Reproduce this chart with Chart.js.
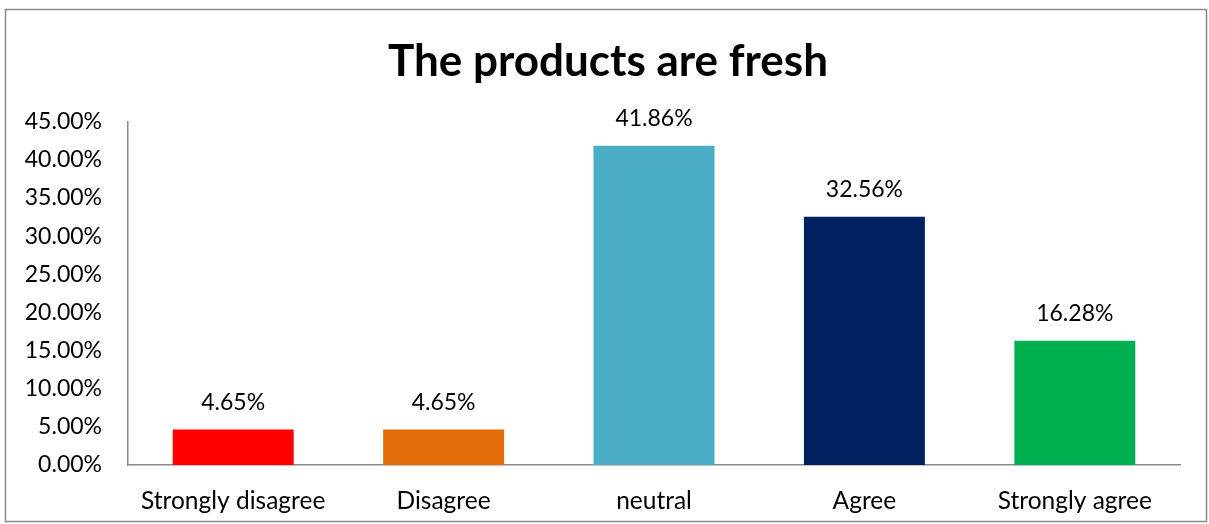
<!DOCTYPE html>
<html>
<head>
<meta charset="utf-8">
<script src="https://cdn.jsdelivr.net/npm/chart.js@4/dist/chart.umd.min.js"></script>
<style>
  html, body { margin: 0; padding: 0; background: #fff; }
  #wrap { position: relative; width: 1209px; height: 524px; }
</style>
</head>
<body>
<div id="wrap"><canvas id="c" width="1209" height="524"></canvas></div>
<script>
const categories = ['Strongly disagree', 'Disagree', 'neutral', 'Agree', 'Strongly agree'];
const values = [4.65, 4.65, 41.86, 32.56, 16.28];
const barColors = ['#FF0000', '#E46C0A', '#4BACC6', '#002060', '#00B050'];
const yTicks = [0, 5, 10, 15, 20, 25, 30, 35, 40, 45];

const FONT = 'Lato, "Open Sans", sans-serif';

// Outer frame around the whole chart
const framePlugin = {
  id: 'frame',
  beforeDraw(chart) {
    const ctx = chart.ctx;
    ctx.save();
    ctx.fillStyle = '#fff';
    ctx.fillRect(0, 0, chart.width, chart.height);
    ctx.strokeStyle = '#898989';
    ctx.lineWidth = 1.5;
    ctx.strokeRect(5.5, 9.5, 1201, 512);
    ctx.restore();
  }
};

// Centre the title over the frame rather than the padded layout box
const titleCentre = {
  id: 'titleCentre',
  afterLayout(chart) {
    if (chart.titleBlock) {
      chart.titleBlock.left = 36;
      chart.titleBlock.right = 1180;
    }
  }
};

// Percentage labels above each bar
const valueLabels = {
  id: 'valueLabels',
  afterDatasetsDraw(chart) {
    const ctx = chart.ctx;
    const meta = chart.getDatasetMeta(0);
    ctx.save();
    ctx.font = '23px ' + FONT;
    ctx.fillStyle = '#000';
    ctx.textAlign = 'center';
    ctx.textBaseline = 'middle';
    meta.data.forEach((bar, i) => {
      ctx.fillText(values[i].toFixed(2) + '%', bar.x, bar.y - 27);
    });
    ctx.restore();
  }
};

new Chart(document.getElementById('c'), {
  type: 'bar',
  data: {
    labels: categories,
    datasets: [{
      data: values,
      backgroundColor: barColors,
      borderWidth: 0,
      categoryPercentage: 0.575,
      barPercentage: 1
    }]
  },
  options: {
    responsive: false,
    animation: false,
    layout: { padding: { top: 10, right: 29, bottom: 0, left: 0 } },
    plugins: {
      legend: { display: false },
      tooltip: { enabled: false },
      title: {
        display: true,
        text: 'The products are fresh',
        color: '#000',
        font: { family: FONT, size: 44, weight: 'bold', lineHeight: 1.2 },
        padding: { top: 25, bottom: 34 }
      }
    },
    scales: {
      x: {
        grid: { display: false, drawTicks: false },
        border: { display: true, color: '#898989', width: 1.5 },
        ticks: { color: '#000', font: { family: FONT, size: 24.5 }, padding: 21, maxRotation: 0, autoSkip: false },
        afterFit(scale) { scale.height = 59; }
      },
      y: {
        min: 0,
        max: 45,
        grid: { display: false, drawTicks: false },
        border: { display: true, color: '#898989', width: 1.5 },
        afterBuildTicks(scale) { scale.ticks = yTicks.map(v => ({ value: v })); },
        ticks: {
          color: '#000',
          font: { family: FONT, size: 23 },
          padding: 26,
          callback: v => v.toFixed(2) + '%'
        },
        afterFit(scale) { scale.width = 128; }
      }
    }
  },
  plugins: [framePlugin, titleCentre, valueLabels]
});
</script>
</body>
</html>
